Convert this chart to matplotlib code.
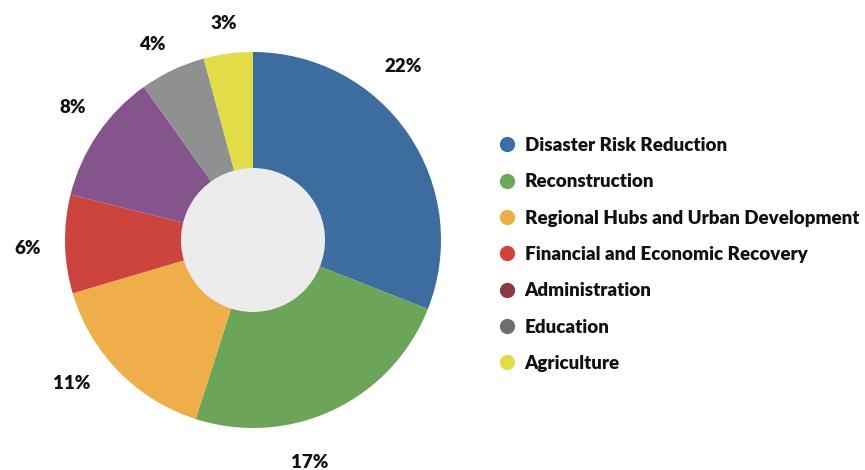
import numpy as np
import matplotlib
matplotlib.use("Agg")
import matplotlib.pyplot as plt
from matplotlib.lines import Line2D
from matplotlib.patches import Circle

categories = ["Disaster Risk Reduction", "Reconstruction", "Regional Hubs and Urban Development",
              "Financial and Economic Recovery", "Administration", "Education", "Agriculture"]
values = [22, 17, 11, 6, 8, 4, 3]
labels = ["22%", "17%", "11%", "6%", "8%", "4%", "3%"]

slice_colors = ["#3d6c9e", "#6ca55a", "#eeae4a", "#cd433e", "#85548c", "#8f9190", "#e2dc48"]
legend_colors = ["#3a6ea5", "#6aa95b", "#efad49", "#d5413e", "#8b3a44", "#6d6e71", "#e2dc48"]
label_angle_shift = [-15, 11, 6, -1, 2, -2, 0]   # degrees, clockwise tweak of label placement
label_radius = [1.22, 1.22, 1.23, 1.20, 1.19, 1.17, 1.16]

plt.rcParams['font.family'] = ['Lato', 'DejaVu Sans']

W, H = 865, 470
fig = plt.figure(figsize=(W / 100, H / 100), dpi=100)
cx, cy, R = 253, 240, 188
half = 240
ax = fig.add_axes([(cx - half) / W, (H - cy - half) / H, 2 * half / W, 2 * half / H])
lim = half / R
ax.set_xlim(-lim, lim)
ax.set_ylim(-lim, lim)
ax.set_aspect('equal')
ax.axis('off')

wedges, _ = ax.pie(values, startangle=90, counterclock=False, colors=slice_colors,
                   radius=1, wedgeprops=dict(linewidth=0))
ax.set_xlim(-lim, lim)
ax.set_ylim(-lim, lim)
ax.add_patch(Circle((0, 0), 72 / R, facecolor="#ececec", edgecolor="none", zorder=5))

total = sum(values)
cum = 0
for v, lab, sh, rr in zip(values, labels, label_angle_shift, label_radius):
    mid = (cum + v / 2) / total * 360 + sh
    cum += v
    th = np.deg2rad(mid)
    ax.text(rr * np.sin(th), rr * np.cos(th), lab, ha='center', va='center',
            fontsize=13.5, fontweight='heavy', color='#111111')

handles = [Line2D([], [], marker='o', linestyle='none', markersize=11,
                  markerfacecolor=c, markeredgecolor='none') for c in legend_colors]
leg = fig.legend(handles, categories, loc='upper left',
                 bbox_to_anchor=(498 / W, 1 - 137 / H), frameon=False,
                 prop=dict(size=13.5, weight='heavy'), labelspacing=1.03,
                 handletextpad=0.42, handlelength=1.0, borderaxespad=0, borderpad=0)
for t in leg.get_texts():
    t.set_color('#111111')

fig.savefig("out.png", dpi=100)
